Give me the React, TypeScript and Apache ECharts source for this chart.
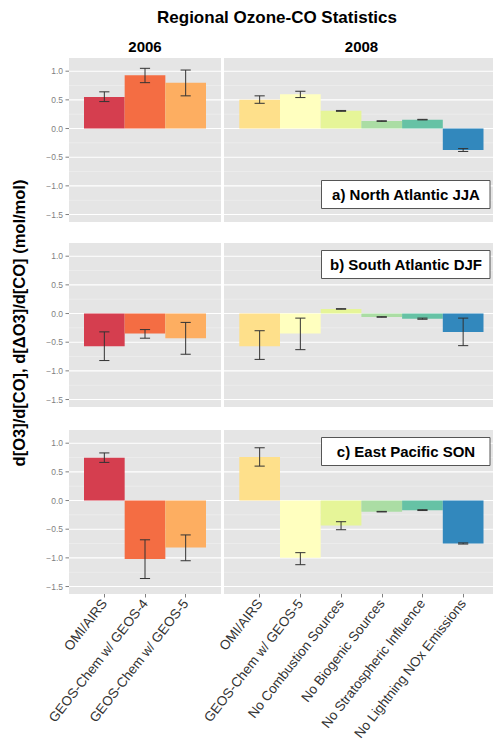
import React, { useEffect, useRef } from 'react';
import * as echarts from 'echarts';

// ---------- data ----------
const years = ['2006', '2008'];
const cats2006 = ['OMI/AIRS', 'GEOS-Chem w/ GEOS-4', 'GEOS-Chem w/ GEOS-5'];
const cats2008 = [
  'OMI/AIRS',
  'GEOS-Chem w/ GEOS-5',
  'No Combustion Sources',
  'No Biogenic Sources',
  'No Stratospheric Influence',
  'No Lightning NOx Emissions',
];
const regions = ['a) North Atlantic JJA', 'b) South Atlantic DJF', 'c) East Pacific SON'];

const colors2006 = ['#D53E4F', '#F46D43', '#FDAE61'];
const colors2008 = ['#FEE08B', '#FFFFBF', '#E6F598', '#ABDDA4', '#66C2A5', '#3288BD'];

// North Atlantic JJA
const na2006 = [0.55, 0.93, 0.8];
const na2006Lo = [0.47, 0.8, 0.57];
const na2006Hi = [0.64, 1.05, 1.02];
const na2008 = [0.5, 0.6, 0.31, 0.13, 0.155, -0.375];
const na2008Lo = [0.44, 0.54, 0.3, 0.125, 0.15, -0.4];
const na2008Hi = [0.57, 0.65, 0.315, 0.135, 0.16, -0.35];

// South Atlantic DJF
const sa2006 = [-0.57, -0.35, -0.43];
const sa2006Lo = [-0.82, -0.43, -0.71];
const sa2006Hi = [-0.32, -0.28, -0.155];
const sa2008 = [-0.57, -0.35, 0.08, -0.06, -0.09, -0.32];
const sa2008Lo = [-0.8, -0.63, 0.075, -0.065, -0.1, -0.56];
const sa2008Hi = [-0.3, -0.08, 0.085, -0.055, -0.08, -0.08];

// East Pacific SON
const ep2006 = [0.745, -1.02, -0.82];
const ep2006Lo = [0.665, -1.36, -1.05];
const ep2006Hi = [0.83, -0.685, -0.6];
const ep2008 = [0.757, -1.0, -0.435, -0.196, -0.168, -0.75];
const ep2008Lo = [0.6, -1.12, -0.51, -0.2, -0.175, -0.76];
const ep2008Hi = [0.92, -0.91, -0.37, -0.19, -0.16, -0.74];

const yMajor = [-1.5, -1.0, -0.5, 0, 0.5, 1.0];
const yMinor = [-1.25, -0.75, -0.25, 0.25, 0.75];
const yMin = -1.63;
const yMax = 1.23;

const title = 'Regional Ozone-CO Statistics';
const yTitle = 'd[O3]/d[CO], d[ΔO3]/d[CO] (mol/mol)';

// ---------- layout ----------
const FONT = '"Liberation Sans", Arial, Helvetica, sans-serif';
const rowTops = [58, 243, 430];
const panelH = 164;
const outerCols = [
  { left: 69, width: 152 },
  { left: 224, width: 275 },
];
const innerCols = [
  { left: 84, width: 122 },
  { left: 239.3, width: 244.2 },
];
const boxCenters = [194.5, 264.5, 451.5];

export default function App() {
  const ref = useRef<HTMLDivElement>(null);

  useEffect(() => {
    if (!ref.current) return;
    const chart = echarts.init(ref.current, undefined, { renderer: 'svg' });

    const panels = [
      [
        { v: na2006, lo: na2006Lo, hi: na2006Hi },
        { v: na2008, lo: na2008Lo, hi: na2008Hi },
      ],
      [
        { v: sa2006, lo: sa2006Lo, hi: sa2006Hi },
        { v: sa2008, lo: sa2008Lo, hi: sa2008Hi },
      ],
      [
        { v: ep2006, lo: ep2006Lo, hi: ep2006Hi },
        { v: ep2008, lo: ep2008Lo, hi: ep2008Hi },
      ],
    ];
    const catsByCol = [cats2006, cats2008];
    const colorsByCol = [colors2006, colors2008];

    const grid: any[] = [];
    const xAxis: any[] = [];
    const yAxis: any[] = [];
    const series: any[] = [];

    const fmt = (v: number) => (v < 0 ? '\u2212' : '') + Math.abs(v).toFixed(1);

    const gridLineData = [
      ...yMajor.map((v) => [0.5, v, 1]),
      ...yMinor.map((v) => [0.5, v, 0]),
    ];

    for (let r = 0; r < 3; r++) {
      for (let c = 0; c < 2; c++) {
        const showY = c === 0;
        const showX = r === 2;
        // outer (background) grid
        const og = grid.length;
        grid.push({
          left: outerCols[c].left,
          width: outerCols[c].width,
          top: rowTops[r],
          height: panelH,
          show: true,
          backgroundColor: '#e5e5e5',
          borderWidth: 0,
          containLabel: false,
        });
        xAxis.push({ gridIndex: og, type: 'value', min: 0, max: 1, show: false });
        yAxis.push({
          gridIndex: og,
          type: 'value',
          min: yMin,
          max: yMax,
          axisLine: { show: false },
          axisTick: { show: false },
          splitLine: { show: false },
          axisLabel: {
            show: showY,
            showMinLabel: false,
            showMaxLabel: false,
            formatter: fmt,
            color: '#7f7f7f',
            fontSize: 8.5,
            fontFamily: FONT,
            margin: 6,
          },
        });
        series.push({
          type: 'custom',
          xAxisIndex: og,
          yAxisIndex: og,
          z: 1,
          silent: true,
          encode: { x: 0, y: 1 },
          data: gridLineData,
          renderItem: (params: any, api: any) => {
            const cs = params.coordSys;
            const y = api.coord([0, api.value(1)])[1];
            const major = api.value(2) === 1;
            const children: any[] = [
              {
                type: 'line',
                shape: { x1: cs.x, y1: y, x2: cs.x + cs.width, y2: y },
                style: { stroke: major ? '#ffffff' : '#f2f2f2', lineWidth: major ? 1.1 : 0.6 },
              },
            ];
            if (major && showY) {
              children.push({
                type: 'line',
                shape: { x1: cs.x - 3.5, y1: y, x2: cs.x, y2: y },
                style: { stroke: '#7f7f7f', lineWidth: 1 },
              });
            }
            return { type: 'group', children };
          },
        });

        // inner (bars) grid
        const ig = grid.length;
        grid.push({
          left: innerCols[c].left,
          width: innerCols[c].width,
          top: rowTops[r],
          height: panelH,
          show: false,
          containLabel: false,
        });
        xAxis.push({
          gridIndex: ig,
          type: 'category',
          position: 'bottom',
          data: catsByCol[c],
          axisLine: { show: false, onZero: false },
          axisTick: {
            show: showX,
            alignWithLabel: true,
            length: 3.5,
            lineStyle: { color: '#7f7f7f', width: 1 },
          },
          axisLabel: {
            show: showX,
            interval: 0,
            rotate: 52,
            margin: 7,
            color: '#333333',
            fontSize: 13.5,
            fontFamily: FONT,
          },
        });
        yAxis.push({ gridIndex: ig, type: 'value', min: yMin, max: yMax, show: false });

        const p = panels[r][c];
        series.push({
          type: 'bar',
          xAxisIndex: ig,
          yAxisIndex: ig,
          z: 2,
          barWidth: '100%',
          barCategoryGap: '0%',
          silent: true,
          data: p.v.map((v, i) => ({ value: v, itemStyle: { color: colorsByCol[c][i] } })),
        });
        series.push({
          type: 'custom',
          xAxisIndex: ig,
          yAxisIndex: ig,
          z: 3,
          silent: true,
          encode: { x: 0, y: [1, 2] },
          data: p.v.map((_, i) => [i, p.lo[i], p.hi[i]]),
          renderItem: (params: any, api: any) => {
            const x = api.value(0);
            const a = api.coord([x, api.value(1)]);
            const b = api.coord([x, api.value(2)]);
            const hw = api.size([1, 0])[0] * 0.125;
            const st = { stroke: '#333333', lineWidth: 1 };
            return {
              type: 'group',
              children: [
                { type: 'line', shape: { x1: a[0], y1: a[1], x2: b[0], y2: b[1] }, style: st },
                { type: 'line', shape: { x1: a[0] - hw, y1: a[1], x2: a[0] + hw, y2: a[1] }, style: st },
                { type: 'line', shape: { x1: b[0] - hw, y1: b[1], x2: b[0] + hw, y2: b[1] }, style: st },
              ],
            };
          },
        });
      }
    }

    const graphic: any[] = [
      {
        type: 'text',
        x: 277,
        y: 17,
        style: {
          text: title,
          align: 'center',
          verticalAlign: 'middle',
          fontSize: 17,
          fontWeight: 'bold',
          fontFamily: FONT,
          fill: '#000',
        },
      },
      {
        type: 'text',
        x: 19,
        y: 323,
        rotation: Math.PI / 2,
        style: {
          text: yTitle,
          align: 'center',
          verticalAlign: 'middle',
          fontSize: 16.5,
          fontWeight: 'bold',
          fontFamily: FONT,
          fill: '#000',
        },
      },
      ...years.map((yr, c) => ({
        type: 'text',
        x: c === 0 ? 145 : 361.5,
        y: 46,
        style: {
          text: yr,
          align: 'center',
          verticalAlign: 'middle',
          fontSize: 15,
          fontWeight: 'bold',
          fontFamily: FONT,
          fill: '#000',
        },
      })),
    ];
    regions.forEach((label, r) => {
      const cy = boxCenters[r];
      graphic.push({
        type: 'rect',
        shape: { x: 321.5, y: cy - 14, width: 168.5, height: 28 },
        style: { fill: '#ffffff', stroke: '#555555', lineWidth: 1 },
        z: 10,
      });
      graphic.push({
        type: 'text',
        x: 406,
        y: cy,
        z: 11,
        style: {
          text: label,
          align: 'center',
          verticalAlign: 'middle',
          fontSize: 15,
          fontWeight: 'bold',
          fontFamily: FONT,
          fill: '#000',
        },
      });
    });

    chart.setOption({
      animation: false,
      backgroundColor: '#ffffff',
      textStyle: { fontFamily: FONT },
      grid,
      xAxis,
      yAxis,
      series,
      graphic,
    });

    return () => chart.dispose();
  }, []);

  return (
    <div
      ref={ref}
      style={{ position: 'absolute', left: 0, top: 0, width: 493, height: 743 }}
    />
  );
}
